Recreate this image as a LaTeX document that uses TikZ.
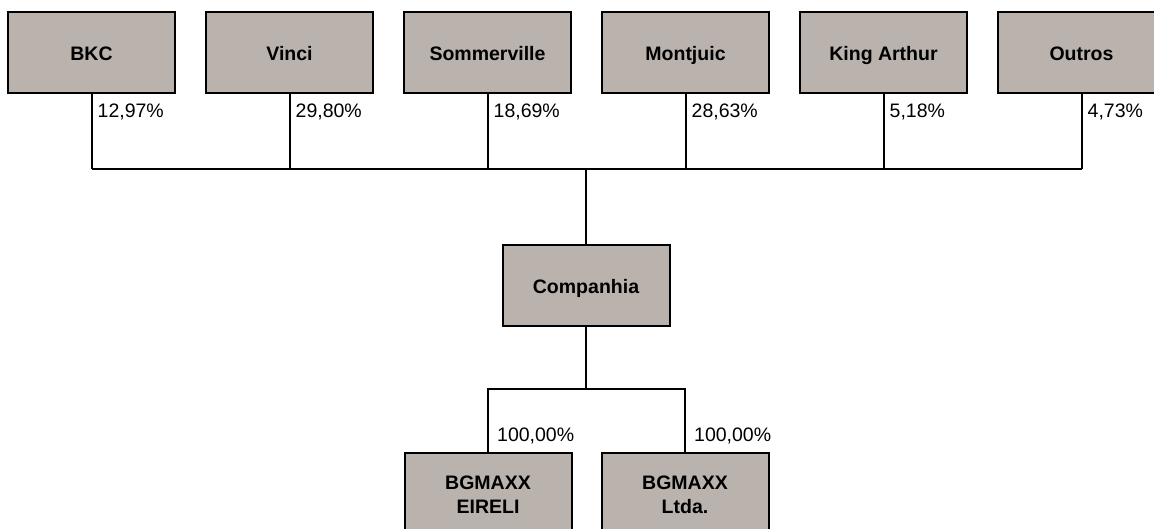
\documentclass[tikz,border=0pt]{standalone}
\usepackage{fontspec}
\setmainfont{Liberation Sans}
\definecolor{boxgray}{RGB}{185,178,173}
\tikzset{
  firm/.style={draw, line width=2pt, fill=boxgray, minimum width=167pt,
    minimum height=81pt, align=center, text height=18pt, text depth=2pt,
    font=\fontsize{19.5}{24}\selectfont\bfseries},
  twoline/.style={text height=42pt},
  pct/.style={anchor=west, inner sep=0pt, font=\fontsize{19.5}{24}\selectfont},
  link/.style={line width=2pt}
}
\begin{document}
\begin{tikzpicture}[x=1pt, y=-1pt]
  \useasboundingbox (0, 0) rectangle (1154, 529);
  % shareholders
  \foreach \name/\label/\share [count=\i] in {bkc/BKC/{12,97\%}, vinci/Vinci/{29,80\%},
      sommer/Sommerville/{18,69\%}, montjuic/Montjuic/{28,63\%},
      arthur/King Arthur/{5,18\%}, outros/Outros/{4,73\%}} {
    \node[firm] (\name) at ({91.5 + 198 * (\i - 1)}, 52.5) {\label};
    \node[pct] (\name-pct) at ([shift={(6, 18)}]\name.south) {\share};
  }
  \coordinate (bus) at (586, 169);
  \foreach \name in {bkc, vinci, sommer, montjuic, arthur, outros}
    \draw[link] (\name.south) -- (\name.south |- bus);
  \draw[link] (bkc.south |- bus) -- (outros.south |- bus);
  % company
  \node[firm] (comp) at (586, 286) {Companhia};
  \draw[link] (bus) -- (comp.north);
  % subsidiaries
  \node[firm, twoline] (eireli) at (488, 493.5) {BGMAXX\\EIRELI};
  \node[firm, twoline] (ltda) at (685, 493.5) {BGMAXX\\Ltda.};
  \coordinate (fork) at (586, 389);
  \draw[link] (comp.south) -- (fork);
  \draw[link] (eireli.north) |- (fork) -| (ltda.north);
  \node[pct] (eireli-pct) at ([shift={(9, -16)}]eireli.north) {100,00\%};
  \node[pct] (ltda-pct) at ([shift={(9, -16)}]ltda.north) {100,00\%};
\end{tikzpicture}
\end{document}
